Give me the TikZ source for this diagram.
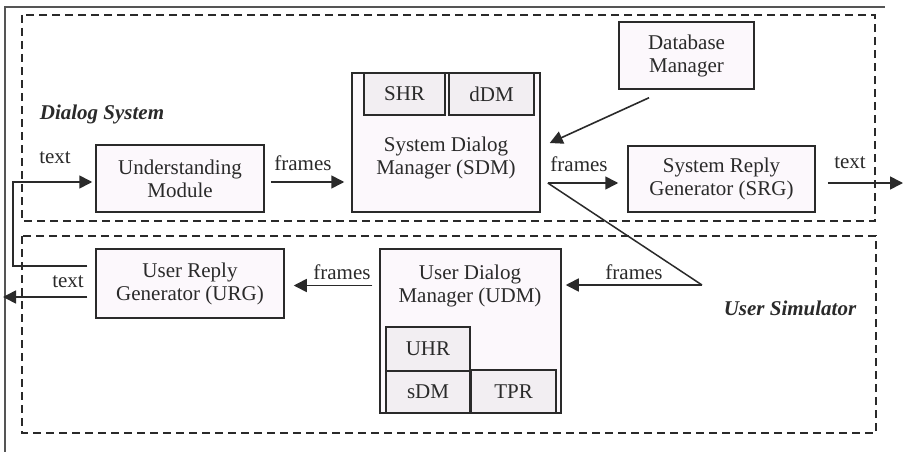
\documentclass[tikz,border=0pt]{standalone}
\usepackage{fontspec}
\setmainfont{Liberation Serif}
\usetikzlibrary{arrows.meta}
\definecolor{boxfill}{HTML}{FCF8FC}
\definecolor{subfill}{HTML}{F2EEF2}
\definecolor{ink}{HTML}{2A2A2A}
\definecolor{framegray}{HTML}{555555}
\begin{document}
\begin{tikzpicture}[x=1pt,y=-1pt,
  every node/.style={font=\fontsize{21}{23}\selectfont, text=ink},
  blockbox/.style={draw=ink, line width=1.5pt, fill=boxfill, minimum width=#1, inner sep=0pt, align=center},
  subbox/.style={draw=ink, line width=1.5pt, fill=subfill, inner sep=0pt},
  region/.style={draw=ink, line width=1.3pt, dash pattern=on 8pt off 5pt},
  arr/.style={draw=ink, line width=1.6pt, -{Triangle[length=13pt,width=13pt]}},
  plain/.style={draw=ink, line width=1.5pt},
  lbl/.style={inner sep=0pt},
  title/.style={inner sep=0pt, font=\fontsize{21}{23}\selectfont\bfseries\itshape}
]
\useasboundingbox (0,0) rectangle (904,452);
\fill[white] (0,0) rectangle (904,452);
% outer frame (cropped)
\draw[framegray, line width=2.2pt] (5,452) -- (5,7) -- (885,7);
% regions
\draw[region] (22,15) rectangle (875,221);
\draw[region] (22,236) rectangle (876,433);
\node[title] (ds) at (102,114) {Dialog System};
\node[title] (us) at (790,308) {User Simulator};
% blocks
\node[blockbox=168pt, minimum height=67pt] (UM) at (180,178.5) {Understanding\\Module};
\node[blockbox=188pt, minimum height=139pt] (SDM) at (446,142.5) {};
\node[subbox, minimum width=81pt, minimum height=42pt] (SHR) at (404.5,94) {SHR};
\node[subbox, minimum width=85pt, minimum height=42pt] (dDM) at (491.5,94) {dDM};
\node[align=center, inner sep=0pt] (SDMt) at (446,158) {System Dialog\\Manager (SDM)};
\node[blockbox=135pt, minimum height=67pt] (DB) at (686.5,55.5) {Database\\Manager};
\node[blockbox=187pt, minimum height=66pt] (SRG) at (721.5,179) {System Reply\\Generator (SRG)};
\node[blockbox=188pt, minimum height=69pt] (URG) at (190,283.5) {User Reply\\Generator (URG)};
\node[blockbox=181pt, minimum height=164pt] (UDM) at (470.5,331) {};
\node[align=center, inner sep=0pt] (UDMt) at (470,286) {User Dialog\\Manager (UDM)};
\node[subbox, minimum width=84pt, minimum height=44pt] (UHR) at (428,349) {UHR};
\node[subbox, minimum width=84pt, minimum height=42pt] (sDM) at (428,392) {sDM};
\node[subbox, minimum width=85pt, minimum height=43pt] (TPR) at (513.5,391.5) {TPR};
% helper coordinates
\coordinate (fb1) at (13,266);
\coordinate (fb2) at (13,182);
\coordinate (outR) at (903,183);
\coordinate (outL) at (3,297);
\coordinate (bend) at (702,285);
% connectors
\draw[arr] ([xshift=-8pt]URG.west |- fb1) -- (fb1) -- (fb2) -- ([xshift=-3pt]UM.west |- fb2);
\draw[arr] ([xshift=6pt]UM.east |- fb2) -- ([xshift=-7pt]SDM.west |- fb2);
\draw[arr] ([xshift=-37.5pt,yshift=-8pt]DB.south) -- ([xshift=9pt,yshift=-0.5pt]SDM.east);
\draw[arr] ([xshift=7pt]SDM.east |- outR) -- ([xshift=-9pt]SRG.west |- outR);
\draw[arr] ([xshift=12pt]SRG.east |- outR) -- (outR);
\draw[plain] ([xshift=7pt]SDM.east |- outR) -- (bend);
\draw[arr] (bend) -- ([xshift=4pt]UDM.east |- bend);
\draw[arr] ([xshift=-7pt,yshift=-2pt]UDM.west |- URG.east) -- ([xshift=9pt,yshift=-2pt]URG.east);
\draw[arr] ([xshift=-8pt]URG.west |- outL) -- (outL);
% labels
\node[lbl] (t1) at (55,158) {text};
\node[lbl] (f1) at (303,163) {frames};
\node[lbl] (f2) at (579,164) {frames};
\node[lbl] (t2) at (850,163) {text};
\node[lbl] (t3) at (68,282) {text};
\node[lbl] (f3) at (342,272) {frames};
\node[lbl] (f4) at (634,272) {frames};
\end{tikzpicture}
\end{document}
